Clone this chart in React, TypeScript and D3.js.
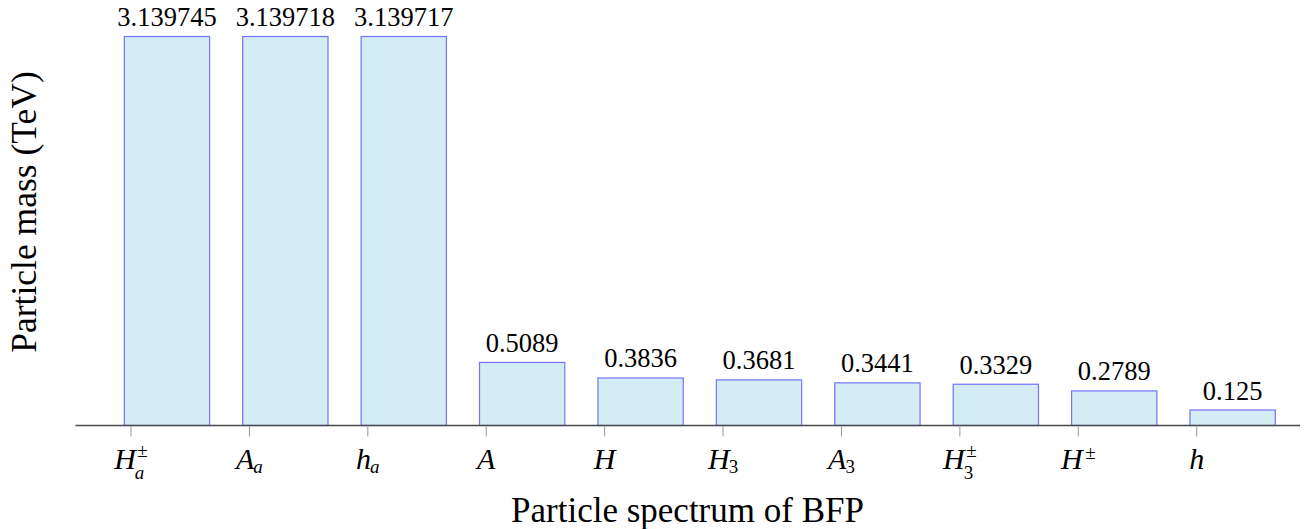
import React from "react";
import * as d3 from "d3";

const categories = ["Hapm", "Aa", "ha", "A", "H", "H3", "A3", "H3pm", "Hpm", "h"];
const labelBase = ["H", "A", "h", "A", "H", "H", "A", "H", "H", "h"];
const labelSub = ["a", "a", "a", "", "", "3", "3", "3", "", ""];
const labelSup = ["±", "", "", "", "", "", "", "±", "±", ""];
const masses = [3.139745, 3.139718, 3.139717, 0.5089, 0.3836, 0.3681, 0.3441, 0.3329, 0.2789, 0.125];
const massLabels = ["3.139745", "3.139718", "3.139717", "0.5089", "0.3836", "0.3681", "0.3441", "0.3329", "0.2789", "0.125"];

const W = 1307;
const H = 529;
const FONT = "Liberation Serif";

const x = d3.scalePoint<string>().domain(categories).range([131, 1196.7]);
const y = d3.scaleLinear().domain([0, masses[0]]).range([425.5, 36.5]);
const barOffset = -6.7;
const barW = 85.3;
const baseSize = 30;
const scriptSize = 19;

function TickLabel({ i }: { i: number }) {
  const c = categories[i];
  const hasSub = labelSub[i] !== "";
  const hasSup = labelSup[i] !== "";
  const subW = scriptSize * 0.5;
  return (
    <text x={x(c) as number} y={468.5} textAnchor="middle" fontFamily={FONT} fill="#000">
      <tspan fontStyle="italic" fontSize={baseSize}>{labelBase[i]}</tspan>
      {hasSub && (
        <tspan
          fontSize={scriptSize}
          fontStyle={labelSub[i] === "3" ? "normal" : "italic"}
          dx={-1}
          dy={hasSup ? 10.5 : 4.5}
        >
          {labelSub[i]}
        </tspan>
      )}
      {hasSup && (
        <tspan
          fontSize={scriptSize}
          dx={hasSub ? -subW + 2.5 : 2.5}
          dy={hasSub ? -22 : -10}
        >
          {labelSup[i]}
        </tspan>
      )}
    </text>
  );
}

export default function App() {
  return (
    <svg width={W} height={H} style={{ display: "block", position: "absolute", left: 0, top: 0 }}>
      {categories.map((c, i) => (
        <rect
          key={"bar" + c}
          x={(x(c) as number) + barOffset}
          y={y(masses[i])}
          width={barW}
          height={y(0) - y(masses[i])}
          fill="#d4ecf4"
          stroke="#7474fa"
          strokeWidth={1.2}
        />
      ))}
      <line x1={75.5} x2={1300} y1={y(0)} y2={y(0)} stroke="#4a4a4a" strokeWidth={1.3} />
      {categories.map((c) => (
        <line
          key={"tick" + c}
          x1={x(c) as number}
          x2={x(c) as number}
          y1={y(0) + 1}
          y2={y(0) + 11}
          stroke="#999"
          strokeWidth={1}
        />
      ))}
      {categories.map((c, i) => (
        <text
          key={"val" + c}
          x={(x(c) as number) + barOffset + barW / 2}
          y={y(masses[i]) - 10.5}
          textAnchor="middle"
          fontFamily={FONT}
          fontSize={26.5}
          fill="#000"
        >
          {massLabels[i]}
        </text>
      ))}
      {categories.map((c, i) => (
        <TickLabel key={"lab" + c} i={i} />
      ))}
      <text x={687.5} y={521.5} textAnchor="middle" fontFamily={FONT} fontSize={35} fill="#000">
        Particle spectrum of BFP
      </text>
      <text
        transform="translate(36,212) rotate(-90)"
        textAnchor="middle"
        fontFamily={FONT}
        fontSize={35.5}
        fill="#000"
      >
        Particle mass (TeV)
      </text>
    </svg>
  );
}
